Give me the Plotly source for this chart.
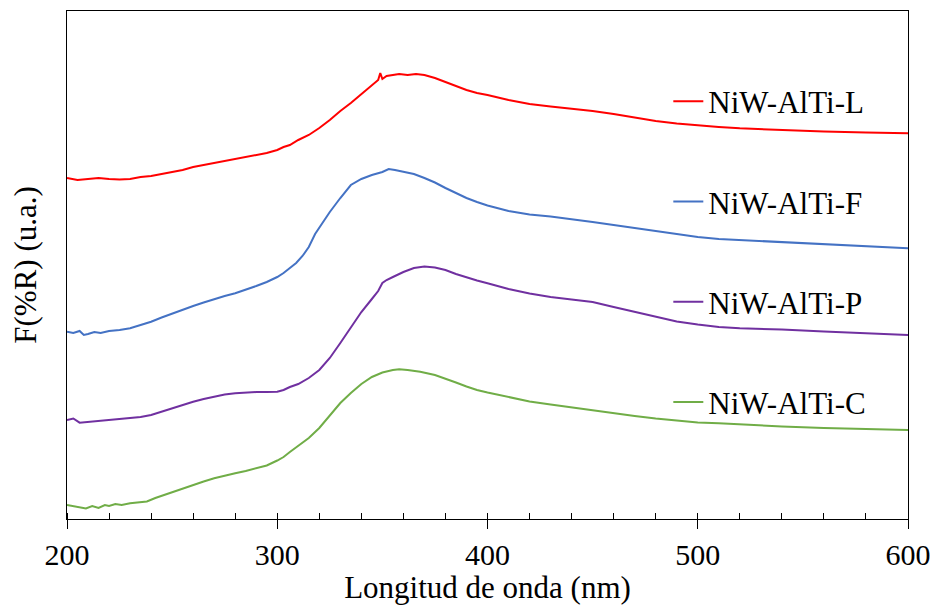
import plotly.graph_objects as go

# ---- data (u.a.) ----
wl_L = [200,205,210,215,220,225,230,235,240,245,250,255,260,265,270,275,280,285,290,295,300,303,306,310,315,320,325,330,335,340,345,348,349,350,352,355,358,362,366,370,375,380,385,390,395,400,410,420,430,440,450,460,470,480,490,500,510,520,540,560,580,600]
F_L = [341,339,340,341,340,339.5,340,342,343,345,347,349,352,354,356,358,360,362,364,366,369,372,374,379,384,391,399,408,416,425,434,439,446,440,443,444,445,444,445,444,441,437,433,429,426,424,419,415,412.5,410.5,408,405,401.5,398,395.5,393.5,392,390.7,389,387.5,386.5,385.7]

wl_F = [200,203,206,208,210,213,216,220,225,230,235,240,245,250,255,260,265,270,275,280,285,290,295,300,303,306,309,312,315,318,321,325,330,335,340,345,350,353,356,360,365,370,375,380,385,390,395,400,410,420,430,440,450,460,470,480,490,500,510,520,540,560,580,600]
F_F = [187.3,186,188,184,185,187,186,188,189,190.7,194,197.3,201.5,205.5,209,213,216.5,220,223,225.7,229,233,237,242,246,251,256,263,272,285,295,307,321,334,340,344,347,350,349,347.5,345,341,336.5,331,326,321,317,313.5,308,304.5,302.5,300,297,294,291,287.5,284.5,282,280,279,276.5,274.5,272.5,270.7]

wl_P = [200,203,206,210,215,220,225,230,235,240,245,250,255,260,265,270,275,280,285,290,295,300,303,306,310,315,320,325,330,335,340,345,348,350,352,355,360,365,370,375,380,385,390,395,400,410,420,430,440,450,460,470,480,490,500,510,520,540,560,580,600]
F_P = [99,100.5,96.3,97,98,99,99.5,100.5,102,104,107.5,111,114,117.3,120,122.5,124.5,125.7,126.5,127,127,127.3,129,132,135,141,149,161,176,192,207,220,228,236,239,242,247,251,252.5,251.5,249,245,241.5,238.5,235.7,230,225.5,222,219.5,217,212,207,202,197.5,194.5,192,190.7,189.5,187.5,185.5,184]

wl_C = [200,203,206,209,212,215,218,220,223,226,230,235,238,242,246,250,255,260,265,270,275,280,285,290,295,300,303,306,310,315,320,325,330,335,340,345,350,355,358,362,368,375,380,385,390,395,400,410,420,430,440,450,460,470,480,490,500,510,520,540,560,580,600]
F_C = [14,13,12,10.5,13,11,14,13,15,14,15.7,16.5,17.5,21,24,27,30.5,34,37.5,40.7,43.5,45.7,48,50.5,53.5,58.5,62,67,73,81,91,104,116,126,135,142,146.5,149,149.7,149,147.3,144,140.5,136.5,132.5,129,126.5,122,117.5,114.5,111.5,108.5,105.7,103,100.5,98.3,96.5,95.7,94.5,92.5,91,90,89]

names = ["NiW-AlTi-L", "NiW-AlTi-F", "NiW-AlTi-P", "NiW-AlTi-C"]
colors = ["#FF0000", "#4472C4", "#7030A0", "#70AD47"]
xs = [wl_L, wl_F, wl_P, wl_C]
ys = [F_L, F_F, F_P, F_C]

x_ticks = [200, 300, 400, 500, 600]
FONT = "Liberation Serif"

fig = go.Figure()
for i in range(4):
    fig.add_trace(go.Scatter(x=xs[i], y=ys[i], mode="lines", name=names[i],
                             line=dict(color=colors[i], width=2),
                             legendgroup=names[i]))

fig.update_layout(
    width=936, height=605,
    margin=dict(l=67, r=28, t=11, b=86, autoexpand=False),
    paper_bgcolor="white", plot_bgcolor="white",
    font=dict(family=FONT, size=31, color="black"),
    showlegend=True,
    legend=dict(x=0.715, y=0.875, xanchor="left", yanchor="top",
                bgcolor="rgba(0,0,0,0)", tracegroupgap=57,
                font=dict(family=FONT, size=31, color="black")),
    xaxis=dict(range=[200, 600], tickvals=x_ticks, ticks="outside", ticklen=9,
               tickcolor="black", showline=True, linecolor="black", linewidth=1,
               mirror=True, showgrid=False, zeroline=False, automargin=False,
               ticklabelstandoff=0,
               tickfont=dict(family=FONT, size=30, color="black"),
               title=dict(text="Longitud de onda (nm)", standoff=5,
                          font=dict(family=FONT, size=31, color="black")),
               minor=dict(dtick=20, ticks="inside", ticklen=6, tickcolor="black",
                          showgrid=False)),
    xaxis2=dict(range=[200, 600], overlaying="x", anchor="y", side="bottom",
                tickvals=x_ticks, ticks="inside", ticklen=7, tickcolor="black",
                showticklabels=False, showgrid=False, zeroline=False, showline=False,
                automargin=False),
    yaxis=dict(range=[0, 508], showticklabels=False, ticks="", showgrid=False,
               zeroline=False, showline=True, linecolor="black", linewidth=1, mirror=True,
               automargin=False,
               title=dict(text="F(%R) (u.a.)", standoff=20,
                          font=dict(family=FONT, size=31, color="black"))),
)

fig.write_html("out.html")
